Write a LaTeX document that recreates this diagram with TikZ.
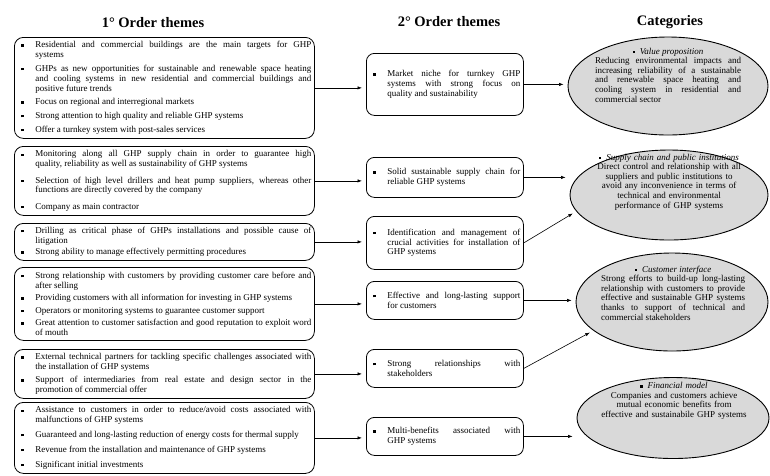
\documentclass[tikz,border=0pt]{standalone}
\usepackage{fontspec}
\setmainfont{Liberation Serif}
\usetikzlibrary{arrows.meta,shapes.geometric}
\newcommand{\IND}{18pt}
\newlength{\isep}
\newcommand{\sqb}{\rule[0.28ex]{2.3pt}{2.3pt}}
\newcommand{\boxfont}{\fontsize{9}{9.8}\selectfont\hyphenpenalty=10000}
\newcommand{\catfont}{\fontsize{9}{9.6}\selectfont\hyphenpenalty=10000}
\newcommand{\itm}[1]{\ifvmode\vspace{\isep}\fi\hangindent=\IND\hangafter=1\noindent\makebox[\IND][l]{\hspace{4pt}\sqb}#1\par}
\newcommand{\cathead}[1]{{\centering\sqb\hspace{5pt}\textit{#1}\par}}
\definecolor{catfill}{RGB}{217,217,217}

\begin{document}
\begin{tikzpicture}[x=1pt, y=-1pt,
    >={Latex[length=4.5pt,width=3.4pt]},
    ttl/.style={font=\fontsize{14.5}{17}\selectfont\bfseries, inner sep=0pt},
    lbox/.style={draw, line width=0.8pt, rounded corners=9pt, anchor=north west, inner sep=3pt, text width=294pt, align=justify, font=\boxfont\setlength{\isep}{#1}},
    mbox/.style={draw, line width=0.8pt, rounded corners=8pt, anchor=north west, inner sep=3pt, text width=151pt, align=justify, font=\boxfont},
    cat/.style={ellipse, draw, fill=catfill, line width=0.9pt, inner sep=0pt},
    cattxt/.style={inner sep=0pt, font=\catfont},
    arr/.style={->, line width=0.6pt, shorten >=4pt},
  ]
  \useasboundingbox (0,0) rectangle (770,475);

  % column heads
  \node[ttl] (h1) at (153,23) {1° Order themes};
  \node[ttl] (h2) at (449,22) {2° Order themes};
  \node[ttl] (h3) at (670,22) {Categories};

  % 1st order themes
  \node[lbox=4pt, minimum height=101pt] (l1) at (14,37) {%
    \itm{Residential and commercial buildings are the main targets for GHP \linebreak systems}%
    \itm{GHPs as new opportunities for sustainable and renewable space heating \linebreak and cooling systems in new residential and commercial buildings and \linebreak positive future trends}%
    \itm{Focus on regional and interregional markets}%
    \itm{Strong attention to high quality and reliable GHP systems}%
    \itm{Offer a turnkey system with post-sales services}};
  \node[lbox=6.5pt, minimum height=69pt] (l2) at (14,146) {%
    \itm{Monitoring along all GHP supply chain in order to guarantee high \linebreak quality, reliability as well as sustainability of GHP systems}%
    \itm{Selection of high level drillers and heat pump suppliers, whereas other \linebreak functions are directly covered by the company}%
    \itm{Company as main contractor}};
  \node[lbox=1.5pt, minimum height=37pt] (l3) at (14,223) {%
    \itm{Drilling as critical phase of GHPs installations and possible cause of \linebreak litigation}%
    \itm{Strong ability to manage effectively permitting procedures}};
  \node[lbox=2.7pt, minimum height=73pt] (l4) at (14,267) {%
    \itm{Strong relationship with customers by providing customer care before and \linebreak after selling}%
    \itm{Providing customers with all information for investing in GHP systems}%
    \itm{Operators or monitoring systems to guarantee customer support}%
    \itm{Great attention to customer satisfaction and good reputation to exploit word \linebreak of mouth}};
  \node[lbox=3.5pt, minimum height=49pt] (l5) at (14,349) {%
    \itm{External technical partners for tackling specific challenges associated with \linebreak the installation of GHP systems}%
    \itm{Support of intermediaries from real estate and design sector in the \linebreak promotion of commercial offer}};
  \node[lbox=5pt, minimum height=71pt] (l6) at (14,402) {%
    \itm{Assistance to customers in order to reduce/avoid costs associated with \linebreak malfunctions of GHP systems}%
    \itm{Guaranteed and long-lasting reduction of energy costs for thermal supply}%
    \itm{Revenue from the installation and maintenance of GHP systems}%
    \itm{Significant initial investments}};

  % 2nd order themes
  \node[mbox, minimum height=62pt] (m1) at (366,53) {\itm{Market niche for turnkey GHP \linebreak systems with strong focus on \linebreak quality and sustainability}};
  \node[mbox, minimum height=40pt] (m2) at (366,157) {\itm{Solid sustainable supply chain for \linebreak reliable GHP systems}};
  \node[mbox, minimum height=53pt] (m3) at (366,216) {\itm{Identification and management of \linebreak crucial activities for installation of \linebreak GHP systems}};
  \node[mbox, minimum height=38pt] (m4) at (366,281) {\itm{Effective and long-lasting support \linebreak for customers}};
  \node[mbox, minimum height=38pt] (m5) at (366,349) {\itm{Strong relationships with \linebreak stakeholders}};
  \node[mbox, minimum height=38pt] (m6) at (366,417) {\itm{Multi-benefits associated with \linebreak GHP systems}};

  % categories
  \node[cat, minimum width=200pt, minimum height=98pt] (e1) at (668,86) {};
  \node[cattxt, text width=146pt, align=justify] (e1t) at (668,75) {\cathead{Value proposition}%
    Reducing environmental impacts and \linebreak increasing reliability of a sustainable \linebreak and renewable space heating and \linebreak cooling system in residential and \linebreak commercial sector};
  \node[cat, minimum width=198pt, minimum height=90pt] (e2) at (669,195) {};
  \node[cattxt, text width=162pt, align=center] (e2t) at (669,182) {\cathead{Supply chain and public institutions}%
    Direct control and relationship with all\\ suppliers and public institutions to\\ avoid any inconvenience in terms of\\ technical and environmental\\ performance of GHP systems};
  \node[cat, minimum width=192pt, minimum height=98pt] (e3) at (672,302) {};
  \node[cattxt, text width=144pt, align=justify] (e3t) at (673,293) {\cathead{Customer interface}%
    Strong efforts to build-up long-lasting \linebreak relationship with customers to provide \linebreak effective and sustainable GHP systems \linebreak thanks to support of technical and \linebreak commercial stakeholders};
  \node[cat, minimum width=192pt, minimum height=81pt] (e4) at (673,418) {};
  \node[cattxt, text width=162pt, align=center] (e4t) at (674,401) {\cathead{Financial model}%
    Companies and customers achieve\\ mutual economic benefits from\\ effective and sustainabile GHP systems};

  % 1st -> 2nd order
  \foreach \k in {1,...,6} {
    \draw[arr] (l\k.east) -- (l\k.east -| m\k.west);
  }

  % 2nd order -> categories
  \draw[arr] (m1.east) -- (m1.east -| e1.west);
  \draw[arr] (m2.east) -- (m2.east -| e2.west);
  \draw[arr] (m3.east) -- (e2.190);
  \draw[arr] (m4.east) -- (m4.east -| e3.west);
  \draw[arr] (m5.east) -- (e3.200);
  \draw[arr] (m6.east) -- (m6.east -| e4.west);

\end{tikzpicture}
\end{document}
